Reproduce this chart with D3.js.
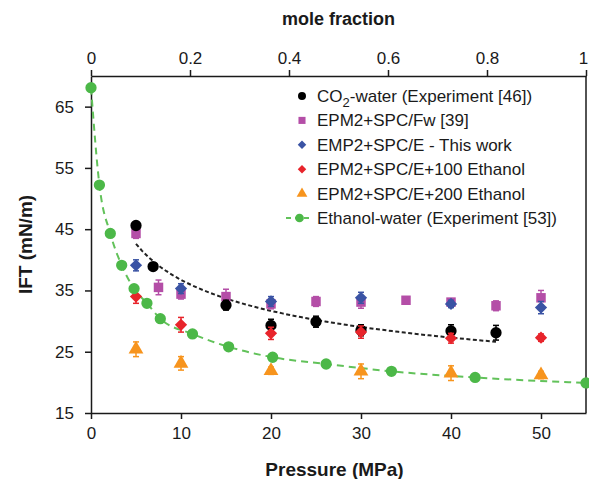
<!DOCTYPE html>
<html>
<head>
<meta charset="utf-8">
<script src="https://cdn.jsdelivr.net/npm/d3@7"></script>
<style>
  body { margin: 0; background: #fff; }
  svg { font-family: "Liberation Sans", Arial, sans-serif; }
</style>
</head>
<body>
<svg id="chart" width="589" height="479"></svg>
<script>
// pressure axis (MPa) data
const co2P = [5, 6.9, 15, 20, 25, 30, 40, 45];
const co2Ift = [45.6, 38.9, 32.6, 29.3, 29.9, 28.5, 28.4, 28.1];
const co2Err = [0.5, 0.5, 0.8, 1.0, 0.9, 0.9, 1.0, 1.2];

const fwP = [5, 7.5, 10, 15, 20, 25, 30, 35, 40, 45, 50];
const fwIft = [44.3, 35.5, 34.4, 34.0, 32.8, 33.2, 33.1, 33.4, 33.1, 32.5, 33.8];
const fwErr = [0.8, 1.2, 0.8, 1.2, 0.8, 0.8, 1.0, 0.5, 0.5, 0.8, 1.2];

const speP = [5, 10, 20, 30, 40, 50];
const speIft = [39.1, 35.3, 33.2, 33.8, 32.8, 32.2];
const speErr = [0.9, 0.8, 0.8, 0.9, 0.6, 1.0];

const eth100P = [5, 10, 20, 30, 40, 50];
const eth100Ift = [34.0, 29.4, 28.0, 28.2, 27.2, 27.3];
const eth100Err = [1.1, 1.2, 1.0, 1.0, 0.8, 0.6];

const eth200P = [5, 10, 20, 30, 40, 50];
const eth200Ift = [25.4, 23.1, 21.9, 21.8, 21.5, 21.2];
const eth200Err = [1.2, 1.1, 0.6, 1.2, 1.2, 0.6];

// mole fraction axis data
const ewFrac = [0, 0.017, 0.039, 0.062, 0.087, 0.113, 0.14, 0.205, 0.278, 0.367, 0.475, 0.607, 0.776, 1];
const ewIft = [68.1, 52.2, 44.3, 39.1, 35.3, 32.9, 30.4, 27.9, 25.8, 24.1, 23.0, 21.8, 20.8, 19.9];

const pTicks = [0, 10, 20, 30, 40, 50];
const fracTicks = [0, 0.2, 0.4, 0.6, 0.8, 1];
const iftTicks = [15, 25, 35, 45, 55, 65];

const cfg = {
    left: 91, right: 586, top: 76, bottom: 413,
    axisColor: "#1a1a1a",
    black: "#000000",
    magenta: "#b44ea7",
    blue: "#3a53a4",
    red: "#e8242b",
    orange: "#f7941d",
    green: "#4cb848",
    greenLine: "#62c25a",
};

const svg = d3.select("#chart");

const x = d3.scaleLinear().domain([0, 55]).range([cfg.left, cfg.right]);
const xTop = d3.scaleLinear().domain([0, 1]).range([cfg.left, cfg.right]);
const y = d3.scaleLinear().domain([15, 70]).range([cfg.bottom, cfg.top]);

// axes
function styleAxis(g) {
    g.selectAll("path, line").attr("stroke", cfg.axisColor).attr("stroke-width", 1.5);
    g.selectAll("text").attr("font-size", 17).attr("fill", "#1a1a1a");
}

svg.append("g")
    .attr("transform", `translate(0,${cfg.bottom})`)
    .call(d3.axisBottom(x).tickValues(pTicks).tickSize(6).tickSizeOuter(0).tickPadding(8))
    .call(styleAxis);

const topAxis = svg.append("g")
    .attr("transform", `translate(0,${cfg.top})`)
    .call(d3.axisTop(xTop).tickValues(fracTicks).tickFormat(d3.format("")).tickSize(6).tickSizeOuter(0).tickPadding(6))
    .call(styleAxis);
// keep the last label inside the picture
topAxis.selectAll(".tick text").filter(d => d === 1).attr("dx", -3);

svg.append("g")
    .attr("transform", `translate(${cfg.left},0)`)
    .call(d3.axisLeft(y).tickValues(iftTicks).tickSize(6).tickSizeOuter(0).tickPadding(11))
    .call(styleAxis);

svg.append("line")
    .attr("x1", cfg.right).attr("x2", cfg.right)
    .attr("y1", cfg.top).attr("y2", cfg.bottom)
    .attr("stroke", cfg.axisColor).attr("stroke-width", 1.5);

// axis titles
svg.append("text")
    .attr("x", (cfg.left + cfg.right) / 2).attr("y", 25)
    .attr("text-anchor", "middle").attr("font-size", 18).attr("font-weight", "bold")
    .attr("fill", "#1a1a1a")
    .text("mole fraction");

svg.append("text")
    .attr("x", (cfg.left + cfg.right) / 2 - 4).attr("y", 476)
    .attr("text-anchor", "middle").attr("font-size", 19).attr("font-weight", "bold")
    .attr("fill", "#1a1a1a")
    .text("Pressure (MPa)");

svg.append("text")
    .attr("transform", `translate(32,${(cfg.top + cfg.bottom) / 2}) rotate(-90)`)
    .attr("text-anchor", "middle").attr("font-size", 19).attr("font-weight", "bold")
    .attr("fill", "#1a1a1a")
    .text("IFT (mN/m)");

// power trendline fitted to the CO2-water experiment (like an Excel power trendline)
function powerFit(xs, ys) {
    var lx = xs.map(Math.log), ly = ys.map(Math.log);
    var mx = d3.mean(lx), my = d3.mean(ly);
    var sxy = d3.sum(lx, (d, i) => (d - mx) * (ly[i] - my));
    var sxx = d3.sum(lx, d => (d - mx) * (d - mx));
    var b = sxy / sxx;
    var a = Math.exp(my - b * mx);
    return p => a * Math.pow(p, b);
}
const fit = powerFit(co2P, co2Ift);
const fitPts = d3.range(60).map(i => {
    var p = d3.min(co2P) + (d3.max(co2P) - d3.min(co2P)) * i / 59;
    return [x(p), y(fit(p))];
});
svg.append("path")
    .attr("d", d3.line()(fitPts))
    .attr("fill", "none").attr("stroke", "#222").attr("stroke-width", 2)
    .attr("stroke-dasharray", "4,2.5");

// ethanol-water line (top axis)
const ewData = ewFrac.map((f, i) => [xTop(f), y(ewIft[i])]);
svg.append("path")
    .attr("d", d3.line().curve(d3.curveMonotoneX)(ewData))
    .attr("fill", "none").attr("stroke", cfg.greenLine).attr("stroke-width", 2)
    .attr("stroke-dasharray", "7,5");

// error bars
function errorBars(ps, vs, es, color) {
    var g = svg.append("g").attr("stroke", color).attr("stroke-width", 1.5);
    ps.forEach((p, i) => {
        var cx = x(p), y0 = y(vs[i] - es[i]), y1 = y(vs[i] + es[i]);
        g.append("line").attr("x1", cx).attr("x2", cx).attr("y1", y0).attr("y2", y1);
        g.append("line").attr("x1", cx - 3).attr("x2", cx + 3).attr("y1", y0).attr("y2", y0);
        g.append("line").attr("x1", cx - 3).attr("x2", cx + 3).attr("y1", y1).attr("y2", y1);
    });
}

// diamonds are squares turned by 45 degrees, like the Excel marker
const symTypes = {
    circle: d3.symbolCircle,
    square: d3.symbolSquare,
    diamond: d3.symbolSquare,
    triangle: d3.symbolTriangle,
};
const sizes = { circle: 100, square: 90, diamond: 75, triangle: 95 };

function markerTransform(cx, cy, shape) {
    return `translate(${cx},${cy})` + (shape === "diamond" ? " rotate(45)" : "");
}

function markers(pts, shape, color) {
    svg.append("g").selectAll("path")
        .data(pts)
        .join("path")
        .attr("transform", d => markerTransform(d[0], d[1], shape))
        .attr("d", d3.symbol(symTypes[shape], sizes[shape]))
        .attr("fill", color);
}

const seriesList = [
    { ps: fwP, vs: fwIft, es: fwErr, shape: "square", color: cfg.magenta },
    { ps: co2P, vs: co2Ift, es: co2Err, shape: "circle", color: cfg.black },
    { ps: speP, vs: speIft, es: speErr, shape: "diamond", color: cfg.blue },
    { ps: eth100P, vs: eth100Ift, es: eth100Err, shape: "diamond", color: cfg.red },
    { ps: eth200P, vs: eth200Ift, es: eth200Err, shape: "triangle", color: cfg.orange },
];
seriesList.forEach(s => {
    errorBars(s.ps, s.vs, s.es, s.color);
    markers(s.ps.map((p, i) => [x(p), y(s.vs[i])]), s.shape, s.color);
});

markers(ewData, "circle", cfg.green);

// legend
const legendItems = [
    { label: "CO2-water (Experiment [46])", shape: "circle", color: cfg.black, size: 50 },
    { label: "EPM2+SPC/Fw [39]", shape: "square", color: cfg.magenta, size: 50 },
    { label: "EMP2+SPC/E - This work", shape: "diamond", color: cfg.blue, size: 36 },
    { label: "EPM2+SPC/E+100 Ethanol", shape: "diamond", color: cfg.red, size: 36 },
    { label: "EPM2+SPC/E+200 Ethanol", shape: "triangle", color: cfg.orange, size: 50 },
    { label: "Ethanol-water (Experiment [53])", shape: "circle", color: cfg.green, size: 60, line: true },
];
const legend = svg.append("g");
legendItems.forEach((d, i) => {
    var ly = 96 + i * 24.4;
    if (d.line) {
        legend.append("line")
            .attr("x1", 286).attr("x2", 313).attr("y1", ly).attr("y2", ly)
            .attr("stroke", cfg.greenLine).attr("stroke-width", 2)
            .attr("stroke-dasharray", "5,4");
        legend.append("path")
            .attr("transform", `translate(299.5,${ly})`)
            .attr("d", d3.symbol(d3.symbolCircle, d.size)())
            .attr("fill", d.color);
    } else {
        legend.append("path")
            .attr("transform", markerTransform(302, ly, d.shape))
            .attr("d", d3.symbol(symTypes[d.shape], d.size)())
            .attr("fill", d.color);
    }
    var t = legend.append("text")
        .attr("x", 317).attr("y", ly + 6)
        .attr("font-size", 17).attr("fill", "#1a1a1a");
    if (i === 0) {
        t.append("tspan").text("CO");
        t.append("tspan").attr("font-size", 13).attr("dy", 5).text("2");
        t.append("tspan").attr("dy", -5).text("-water (Experiment [46])");
    } else {
        t.text(d.label);
    }
});
</script>
</body>
</html>
